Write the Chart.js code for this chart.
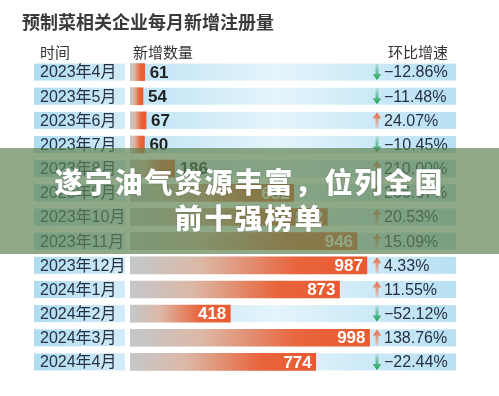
<!DOCTYPE html>
<html>
<head>
<meta charset="utf-8">
<script src="https://cdn.jsdelivr.net/npm/chart.js@4.4.1/dist/chart.umd.min.js"></script>
<style>
  html, body { margin: 0; padding: 0; background: #fff; }
  #wrap { position: relative; width: 499px; height: 396px; }
  #banner {
    position: absolute; left: 0; top: 148px; width: 499px; height: 106px;
    background: rgba(95, 131, 83, 0.7);
    color: #fff; text-align: center;
    font-family: "Noto Sans CJK SC", sans-serif; font-weight: 900;
    font-size: 28px; letter-spacing: 2px; line-height: 36px;
    padding-top: 15px; box-sizing: border-box;
    text-shadow: 0 0 2px rgba(0,0,0,0.25);
  }
</style>
</head>
<body>
<div id="wrap">
  <canvas id="chart" width="499" height="396"></canvas>
  <div id="banner">遂宁油气资源丰富，位列全国<br>前十强榜单</div>
</div>
<script>
// data
const title = '预制菜相关企业每月新增注册量';
const headers = ['时间', '新增数量', '环比增速'];
const months = ['2023年4月', '2023年5月', '2023年6月', '2023年7月', '2023年8月', '2023年9月',
  '2023年10月', '2023年11月', '2023年12月', '2024年1月', '2024年2月', '2024年3月', '2024年4月'];
const counts = [61, 54, 67, 60, 186, 682, 822, 946, 987, 873, 418, 998, 774];
const growth = [-12.86, -11.48, 24.07, -10.45, 210.00, 266.67, 20.53, 15.09, 4.33, 11.55, -52.12, 138.76, -22.44];

const latin = '"Liberation Sans", "Noto Sans CJK SC", sans-serif';

function barGradient(c) {
  const chart = c.chart;
  const xs = chart.scales.x;
  if (!chart.chartArea || !xs) return '#e8603a';
  const x0 = xs.getPixelForValue(0);
  const x1 = xs.getPixelForValue(counts[c.dataIndex]);
  const g = chart.ctx.createLinearGradient(x0, 0, Math.max(x1, x0 + 1), 0);
  g.addColorStop(0, '#c4c8ca');
  g.addColorStop(0.3, '#dcb8a6');
  g.addColorStop(0.7, '#e8653d');
  g.addColorStop(1, '#e85a30');
  return g;
}

const tablePlugin = {
  id: 'table',
  beforeDatasetsDraw(chart) {
    const ctx = chart.ctx;
    const ys = chart.scales.y;
    ctx.save();
    months.forEach((m, i) => {
      const y = ys.getPixelForValue(i);
      const top = y - 8.5, h = 17;
      let g = ctx.createLinearGradient(34, 0, 125, 0);
      g.addColorStop(0, '#aedcf1');
      g.addColorStop(1, '#d2ecf8');
      ctx.fillStyle = g;
      ctx.fillRect(34, top, 91, h);
      g = ctx.createLinearGradient(130, 0, 456, 0);
      g.addColorStop(0, '#bfe3f4');
      g.addColorStop(0.45, '#e4f4fc');
      g.addColorStop(1, '#b7e0f3');
      ctx.fillStyle = g;
      ctx.fillRect(130, top, 326, h);
    });
    ctx.restore();
  },
  afterDatasetsDraw(chart) {
    const ctx = chart.ctx;
    const ys = chart.scales.y;
    const xs = chart.scales.x;
    ctx.save();
    // title
    ctx.fillStyle = '#3a3a3a';
    ctx.font = 'bold 18px "Noto Sans CJK SC", sans-serif';
    ctx.textBaseline = 'middle';
    ctx.textAlign = 'left';
    ctx.fillText(title, 22, 22);
    // headers
    ctx.fillStyle = '#333';
    ctx.font = '15px "Noto Sans CJK SC", sans-serif';
    ctx.fillText(headers[0], 40, 52);
    ctx.fillText(headers[1], 133, 52);
    ctx.fillText(headers[2], 388, 52);

    months.forEach((m, i) => {
      const y = ys.getPixelForValue(i);
      // date label
      ctx.fillStyle = '#263040';
      ctx.font = '16px ' + latin;
      ctx.textAlign = 'left';
      ctx.fillText(m, 40, y + 1);
      // value label
      const xe = xs.getPixelForValue(counts[i]);
      ctx.font = 'bold 17px ' + latin;
      if (counts[i] >= 400) {
        ctx.fillStyle = '#fff';
        ctx.textAlign = 'right';
        ctx.fillText(String(counts[i]), xe - 4, y + 1);
      } else {
        ctx.fillStyle = '#222';
        ctx.textAlign = 'left';
        ctx.fillText(String(counts[i]), xe + 5, y + 1);
      }
      // arrow
      const ax = 377;
      const up = growth[i] >= 0;
      const col = up ? '#e8673f' : '#1f9e5c';
      const g = ctx.createLinearGradient(0, y - 8, 0, y + 8);
      if (up) {
        g.addColorStop(0, col);
        g.addColorStop(1, 'rgba(232,103,63,0.15)');
      } else {
        g.addColorStop(0, 'rgba(31,158,92,0.15)');
        g.addColorStop(1, col);
      }
      ctx.fillStyle = g;
      ctx.beginPath();
      if (up) {
        ctx.moveTo(ax, y - 8);
        ctx.lineTo(ax + 4.5, y - 2);
        ctx.lineTo(ax + 1.5, y - 2);
        ctx.lineTo(ax + 1.5, y + 8);
        ctx.lineTo(ax - 1.5, y + 8);
        ctx.lineTo(ax - 1.5, y - 2);
        ctx.lineTo(ax - 4.5, y - 2);
      } else {
        ctx.moveTo(ax, y + 8);
        ctx.lineTo(ax + 4.5, y + 2);
        ctx.lineTo(ax + 1.5, y + 2);
        ctx.lineTo(ax + 1.5, y - 8);
        ctx.lineTo(ax - 1.5, y - 8);
        ctx.lineTo(ax - 1.5, y + 2);
        ctx.lineTo(ax - 4.5, y + 2);
      }
      ctx.closePath();
      ctx.fill();
      // percent
      const v = growth[i];
      const txt = (v < 0 ? '\u2212' : '') + Math.abs(v).toFixed(2) + '%';
      ctx.fillStyle = '#263040';
      ctx.font = '16px ' + latin;
      ctx.textAlign = 'left';
      ctx.fillText(txt, 384, y + 1);
    });
    ctx.restore();
  }
};

new Chart(document.getElementById('chart').getContext('2d'), {
  type: 'bar',
  data: {
    labels: months,
    datasets: [{
      data: counts,
      backgroundColor: barGradient,
      borderWidth: 0,
      barThickness: 17
    }]
  },
  options: {
    indexAxis: 'y',
    responsive: false,
    animation: false,
    layout: { padding: { left: 130, right: 129, top: 60, bottom: 22 } },
    scales: {
      x: { display: false, min: 0, max: 1000 },
      y: { display: false }
    },
    plugins: {
      legend: { display: false },
      tooltip: { enabled: false }
    }
  },
  plugins: [tablePlugin]
});
</script>
</body>
</html>
